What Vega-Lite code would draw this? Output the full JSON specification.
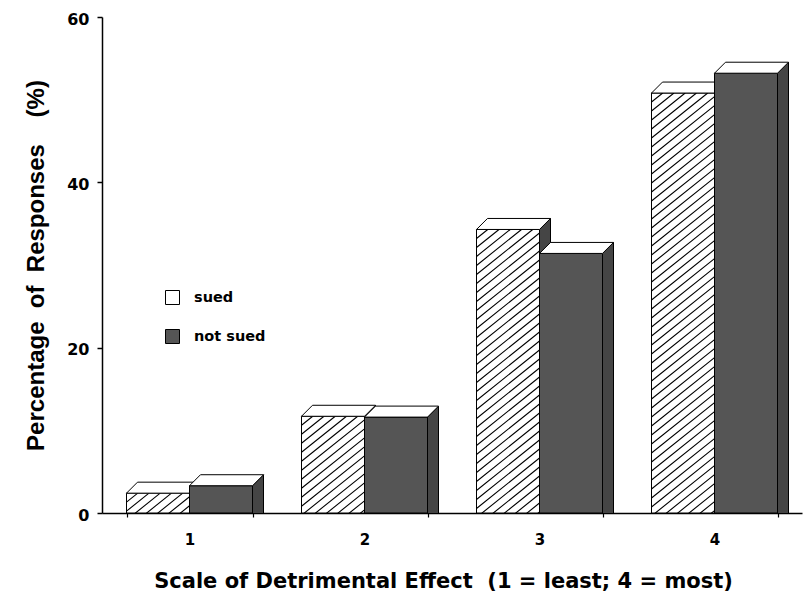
{
  "$schema": "https://vega.github.io/schema/vega-lite/v6.json",
  "width": 700,
  "height": 496,
  "autosize": {"type": "none"},
  "padding": {"left": 102, "top": 17, "right": 10, "bottom": 83},
  "background": "white",
  "config": {
    "view": {"stroke": null},
    "font": "Liberation Sans",
    "axis": {"grid": false, "domainColor": "black", "domainWidth": 1.5, "tickColor": "black", "labelColor": "black", "titleColor": "black", "labelFont": "DejaVu Sans", "titleFont": "DejaVu Sans", "labelFontWeight": "bold", "titleFontWeight": "bold"}
  },
  "data": {
    "values": [
      {"scale": "1", "group": "sued", "pct": 2.4},
      {"scale": "1", "group": "not sued", "pct": 3.3},
      {"scale": "2", "group": "sued", "pct": 11.7},
      {"scale": "2", "group": "not sued", "pct": 11.6},
      {"scale": "3", "group": "sued", "pct": 34.3},
      {"scale": "3", "group": "not sued", "pct": 31.4},
      {"scale": "4", "group": "sued", "pct": 50.8},
      {"scale": "4", "group": "not sued", "pct": 53.2}
    ]
  },
  "encoding": {
    "x": {
      "field": "scale", "type": "nominal",
      "scale": {"paddingInner": 0.28, "paddingOuter": 0.14},
      "axis": {
        "title": "Scale of Detrimental Effect\u00a0\u00a0(1 = least; 4 = most)",
        "labelAngle": 0, "labelFontSize": 15, "labelBaseline": "alphabetic", "labelPadding": 27,
        "tickBand": "extent", "tickSize": 4, "tickWidth": 1.2,
        "titleFontSize": 21, "titleX": 341, "titleY": 74, "titleBaseline": "alphabetic", "titleAlign": "center", "titleAnchor": null
      }
    },
    "xOffset": {
      "field": "group", "type": "nominal",
      "scale": {"domain": ["sued", "not sued"], "paddingInner": 0, "paddingOuter": 0}
    },
    "y": {
      "field": "pct", "type": "quantitative",
      "scale": {"domain": [0, 60], "nice": false},
      "axis": {
        "title": "Percentage\u00a0\u00a0of\u00a0\u00a0Responses\u00a0\u00a0\u00a0\u00a0(%)",
        "values": [0, 20, 40, 60], "labelFontSize": 16, "labelPadding": 8, "labelOffset": 2,
        "tickSize": 5, "tickWidth": 1.5,
        "titleFont": "Liberation Sans", "titleFontSize": 24, "titleX": -66, "titleY": 248, "titleAngle": 270, "titleBaseline": "middle", "titleAlign": "center", "titleAnchor": null
      }
    }
  },
  "layer": [
    {
      "transform": [{"filter": "datum.group === 'sued'"}],
      "mark": {"type": "point", "shape": "M31.5 0L42.5 -11L42.5 460L31.5 471Z", "size": 4, "filled": true, "fill": "#454545", "stroke": "black", "strokeWidth": 1, "opacity": 1, "clip": true}
    },
    {
      "transform": [{"filter": "datum.group === 'sued'"}],
      "mark": {"type": "bar", "stroke": "black", "strokeWidth": 1},
      "encoding": {
        "fill": {
          "field": "group", "type": "nominal",
          "scale": {"domain": ["sued", "not sued"], "range": ["white", "#555555"]},
          "legend": {"title": null, "orient": "none", "legendX": 63, "legendY": 273, "symbolSize": 196, "symbolType": "square", "symbolStrokeColor": "black", "symbolStrokeWidth": 1, "labelFontSize": 14.5, "labelFontWeight": "bold", "labelFont": "DejaVu Sans", "labelColor": "black", "labelOffset": 14, "rowPadding": 20, "padding": 0}
        }
      }
    },
    {
      "transform": [{"filter": "datum.group === 'sued'"}],
      "mark": {"type": "point", "shape": "M-31.5 9L-20.25 0M-31.5 18L-9 0M-31.5 27L2.25 0M-31.5 36L13.5 0M-31.5 45L24.75 0M-31.5 54L31.5 3.6M-31.5 63L31.5 12.6M-31.5 72L31.5 21.6M-31.5 81L31.5 30.6M-31.5 90L31.5 39.6M-31.5 99L31.5 48.6M-31.5 108L31.5 57.6M-31.5 117L31.5 66.6M-31.5 126L31.5 75.6M-31.5 135L31.5 84.6M-31.5 144L31.5 93.6M-31.5 153L31.5 102.6M-31.5 162L31.5 111.6M-31.5 171L31.5 120.6M-31.5 180L31.5 129.6M-31.5 189L31.5 138.6M-31.5 198L31.5 147.6M-31.5 207L31.5 156.6M-31.5 216L31.5 165.6M-31.5 225L31.5 174.6M-31.5 234L31.5 183.6M-31.5 243L31.5 192.6M-31.5 252L31.5 201.6M-31.5 261L31.5 210.6M-31.5 270L31.5 219.6M-31.5 279L31.5 228.6M-31.5 288L31.5 237.6M-31.5 297L31.5 246.6M-31.5 306L31.5 255.6M-31.5 315L31.5 264.6M-31.5 324L31.5 273.6M-31.5 333L31.5 282.6M-31.5 342L31.5 291.6M-31.5 351L31.5 300.6M-31.5 360L31.5 309.6M-31.5 369L31.5 318.6M-31.5 378L31.5 327.6M-31.5 387L31.5 336.6M-31.5 396L31.5 345.6M-31.5 405L31.5 354.6M-31.5 414L31.5 363.6M-31.5 423L31.5 372.6M-31.5 432L31.5 381.6M-31.5 441L31.5 390.6M-31.5 450L31.5 399.6M-31.5 459L31.5 408.6M-31.5 468L31.5 417.6M-31.5 477L31.5 426.6", "size": 4, "filled": false, "stroke": "black", "strokeWidth": 1.1, "opacity": 1, "clip": true}
    },
    {
      "transform": [{"filter": "datum.group === 'sued'"}],
      "mark": {"type": "point", "shape": "M-31.5 0L31.5 0L42.5 -11L-20.5 -11Z", "size": 4, "filled": true, "fill": "white", "stroke": "black", "strokeWidth": 1, "opacity": 1}
    },
    {
      "transform": [{"filter": "datum.group === 'not sued'"}],
      "mark": {"type": "point", "shape": "M31.5 0L42.5 -11L42.5 460L31.5 471Z", "size": 4, "filled": true, "fill": "#454545", "stroke": "black", "strokeWidth": 1, "opacity": 1, "clip": true}
    },
    {
      "transform": [{"filter": "datum.group === 'not sued'"}],
      "mark": {"type": "bar", "stroke": "black", "strokeWidth": 1},
      "encoding": {
        "fill": {"field": "group", "type": "nominal", "scale": {"domain": ["sued", "not sued"], "range": ["white", "#555555"]}}
      }
    },
    {
      "transform": [{"filter": "datum.group === 'not sued'"}],
      "mark": {"type": "point", "shape": "M-31.5 0L31.5 0L42.5 -11L-20.5 -11Z", "size": 4, "filled": true, "fill": "white", "stroke": "black", "strokeWidth": 1, "opacity": 1}
    }
  ]
}
